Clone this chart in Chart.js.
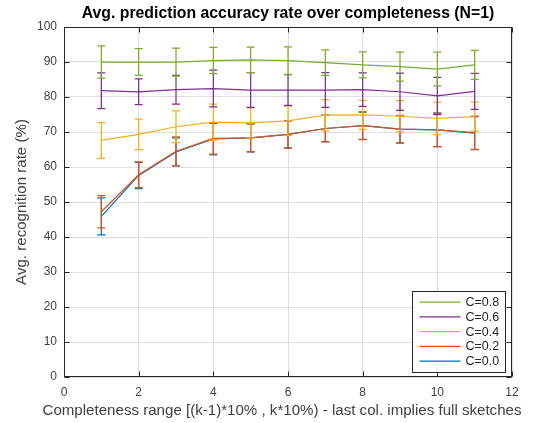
<!DOCTYPE html>
<html>
<head>
<meta charset="utf-8">
<script src="https://cdn.jsdelivr.net/npm/chart.js@4.4.1/dist/chart.umd.min.js"></script>
<style>
  html, body { margin: 0; padding: 0; background: #ffffff; }
  #wrap { width: 538px; height: 423px; position: relative; }
</style>
</head>
<body>
<div id="wrap"><canvas id="c" width="538" height="423"></canvas></div>
<script>
// ---- data ----
const categories = [1, 2, 3, 4, 5, 6, 7, 8, 9, 10, 11];
const seriesLabels = ['C=0.8', 'C=0.6', 'C=0.4', 'C=0.2', 'C=0.0'];

const meanC08 = [90.0, 90.0, 90.0, 90.4, 90.6, 90.4, 89.8, 89.2, 88.7, 88.0, 89.2];
const errC08  = [4.6, 3.8, 4.0, 3.75, 3.65, 3.9, 3.65, 3.7, 4.15, 4.85, 4.15];

const meanC06 = [81.8, 81.5, 82.1, 82.4, 82.0, 82.0, 82.0, 82.1, 81.5, 80.3, 81.6];
const errC06  = [5.1, 3.7, 4.1, 5.25, 4.95, 4.4, 4.95, 4.8, 5.3, 5.3, 5.15];

const meanC04 = [67.6, 69.3, 71.5, 72.8, 72.6, 73.2, 74.8, 74.9, 74.5, 73.9, 74.4];
const errC04  = [5.1, 4.35, 4.55, 5.15, 4.3, 4.2, 4.45, 4.15, 4.45, 4.65, 4.15];

const meanC02 = [47.2, 57.8, 64.5, 68.2, 68.3, 69.3, 71.0, 71.8, 70.8, 70.6, 69.8];
const errC02  = [4.6, 3.7, 4.1, 4.5, 4.0, 3.85, 3.75, 3.95, 3.95, 4.8, 4.75];

const meanC00 = [45.9, 57.6, 64.3, 68.0, 68.3, 69.3, 71.0, 71.8, 70.8, 70.6, 69.7];
const errC00  = [5.3, 3.75, 4.0, 4.5, 4.0, 3.9, 3.8, 3.9, 3.9, 4.8, 4.7];

const xTicks = [0, 2, 4, 6, 8, 10, 12];
const yTicks = [0, 10, 20, 30, 40, 50, 60, 70, 80, 90, 100];

const titleText = 'Avg. prediction accuracy rate over completeness (N=1)';
const xTitle = 'Completeness range [(k-1)*10% , k*10%) - last col. implies full sketches';
const yTitle = 'Avg. recognition rate (%)';

const colors = ['#77AC30', '#7E2F8E', '#EDB120', '#D95319', '#0072BD'];
const means = [meanC08, meanC06, meanC04, meanC02, meanC00];
const errs  = [errC08, errC06, errC04, errC02, errC00];

const FONT = "'Liberation Sans', Arial, Helvetica, sans-serif";
const LW = 1.25;

const datasets = seriesLabels.map((lab, i) => ({
  label: lab,
  data: categories.map((x, j) => ({ x: x, y: means[i][j] })),
  err: errs[i],
  borderColor: colors[i],
  backgroundColor: colors[i],
  borderWidth: LW,
  pointRadius: 0,
  tension: 0,
  fill: false
}));

// error bars drawn per dataset right after its line
const errorBars = {
  id: 'errorBars',
  afterDatasetDraw(chart, args) {
    const ds = chart.data.datasets[args.index];
    const xs = chart.scales.x, ys = chart.scales.y;
    const ctx = chart.ctx;
    ctx.save();
    ctx.strokeStyle = ds.borderColor;
    ctx.lineWidth = LW;
    ds.data.forEach((p, j) => {
      const e = ds.err[j];
      const px = xs.getPixelForValue(p.x);
      const yTop = ys.getPixelForValue(p.y + e);
      const yBot = ys.getPixelForValue(p.y - e);
      const cap = 4;
      ctx.beginPath();
      ctx.moveTo(px, yTop); ctx.lineTo(px, yBot);
      ctx.moveTo(px - cap, yTop); ctx.lineTo(px + cap, yTop);
      ctx.moveTo(px - cap, yBot); ctx.lineTo(px + cap, yBot);
      ctx.stroke();
    });
    ctx.restore();
  }
};

// titles, axes box with inward ticks, legend inside the axes
const boxAndLegend = {
  id: 'boxAndLegend',
  afterDraw(chart) {
    const ctx = chart.ctx;
    const a = chart.chartArea;
    const xs = chart.scales.x, ys = chart.scales.y;
    const L = Math.round(a.left) + 0.5, R = Math.round(a.right) - 0.5;
    const T = Math.round(a.top) + 0.5, B = Math.round(a.bottom) - 0.5;
    ctx.save();
    // title
    ctx.fillStyle = '#000000';
    ctx.font = 'bold 15.8px ' + FONT;
    ctx.textAlign = 'center';
    ctx.textBaseline = 'middle';
    ctx.fillText(titleText, (a.left + a.right) / 2, 13.5);
    // x axis title
    ctx.fillStyle = '#404040';
    ctx.font = '15.1px ' + FONT;
    ctx.fillText(xTitle, (a.left + a.right) / 2 - 6, 411);

    ctx.strokeStyle = '#262626';
    ctx.lineWidth = 1;
    ctx.strokeRect(L, T, R - L, B - T);
    const tl = 5;
    ctx.beginPath();
    xTicks.forEach(v => {
      const px = Math.round(xs.getPixelForValue(v)) + 0.5;
      ctx.moveTo(px, B); ctx.lineTo(px, B - tl);
      ctx.moveTo(px, T); ctx.lineTo(px, T + tl);
    });
    yTicks.forEach(v => {
      const py = Math.round(ys.getPixelForValue(v)) + 0.5;
      ctx.moveTo(L, py); ctx.lineTo(L + tl, py);
      ctx.moveTo(R, py); ctx.lineTo(R - tl, py);
    });
    ctx.stroke();

    // legend
    const w = 93, h = 81;
    const bx = Math.round(a.right - 7 - w) + 0.5;
    const by = Math.round(a.bottom - 5 - h) + 0.5;
    ctx.fillStyle = '#ffffff';
    ctx.fillRect(bx, by, w, h);
    ctx.strokeStyle = '#262626';
    ctx.lineWidth = 1;
    ctx.strokeRect(bx, by, w, h);
    ctx.font = '12.5px ' + FONT;
    ctx.textBaseline = 'middle';
    ctx.textAlign = 'left';
    chart.data.datasets.forEach((ds, i) => {
      const y = by + 10.5 + i * 14.8;
      ctx.strokeStyle = ds.borderColor;
      ctx.lineWidth = LW;
      ctx.beginPath();
      ctx.moveTo(bx + 7, y);
      ctx.lineTo(bx + 48, y);
      ctx.stroke();
      ctx.fillStyle = '#262626';
      ctx.fillText(ds.label, bx + 53, y + 0.5);
    });
    ctx.restore();
  }
};

new Chart(document.getElementById('c'), {
  type: 'line',
  data: { datasets: datasets },
  plugins: [errorBars, boxAndLegend],
  options: {
    responsive: false,
    animation: false,
    events: [],
    layout: { padding: { left: 0, right: 26, top: 27, bottom: 0 } },
    plugins: {
      legend: { display: false },
      tooltip: { enabled: false },
      title: { display: false }
    },
    scales: {
      x: {
        type: 'linear',
        min: 0, max: 12,
        afterBuildTicks(s) { s.ticks = xTicks.map(v => ({ value: v })); },
        afterFit(s) { s.height = 46; },
        grid: { color: '#dfdfdf', drawTicks: false, lineWidth: 1 },
        border: { display: false },
        ticks: { color: '#404040', font: { family: FONT, size: 12 }, padding: 8, maxRotation: 0 },
        title: { display: false }
      },
      y: {
        type: 'linear',
        min: 0, max: 100,
        afterBuildTicks(s) { s.ticks = yTicks.map(v => ({ value: v })); },
        afterFit(s) { s.width = 64; },
        grid: { color: '#dfdfdf', drawTicks: false, lineWidth: 1 },
        border: { display: false },
        ticks: { color: '#404040', font: { family: FONT, size: 12 }, padding: 7 },
        title: {
          display: true,
          text: yTitle,
          color: '#404040',
          font: { family: FONT, size: 15.1 },
          padding: { top: 12.5, bottom: 4 }
        }
      }
    }
  }
});
</script>
</body>
</html>
